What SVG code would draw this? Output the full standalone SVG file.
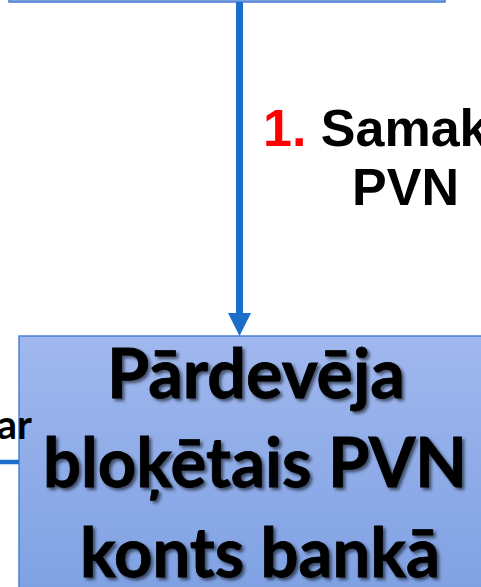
<svg xmlns="http://www.w3.org/2000/svg" width="481" height="587" viewBox="0 0 481 587">
  <defs>
    <linearGradient id="boxGrad" x1="0" y1="0" x2="0" y2="1">
      <stop offset="0" stop-color="#a0b8ee"/>
      <stop offset="1" stop-color="#7c9fe2"/>
    </linearGradient>
    <filter id="shadow" x="-10%" y="-10%" width="130%" height="130%">
      <feDropShadow dx="2.5" dy="2.5" stdDeviation="1.5" flood-color="#000" flood-opacity="0.55"/>
    </filter>
  </defs>
  <style>
    .box { fill: url(#boxGrad); stroke: #4a80d8; stroke-width: 1.5; }
    .conn { stroke: #1a6fcb; fill: none; }
    .lbl { font-family: "Liberation Sans", Arial, sans-serif; font-weight: bold; font-size: 52px; fill: #000; }
    .big { font-family: Lato, "Open Sans", sans-serif; font-weight: bold; font-size: 69px; fill: #000; stroke: #000; stroke-width: 0.8; filter: url(#shadow); }
    .small { font-family: Lato, "Open Sans", sans-serif; font-weight: bold; font-size: 40px; fill: #000; }
  </style>

  <g id="top-box">
    <rect class="box" x="9" y="-100" width="436" height="102"/>
  </g>

  <g id="seller-account">
    <rect class="box" x="19" y="336" width="480" height="280"/>
    <text class="big" x="256" y="398" text-anchor="middle" textLength="298" lengthAdjust="spacingAndGlyphs">Pārdevēja</text>
    <text class="big" x="255" y="487" text-anchor="middle" textLength="424" lengthAdjust="spacingAndGlyphs">bloķētais PVN</text>
    <text class="big" x="260" y="577" text-anchor="middle" textLength="360" lengthAdjust="spacingAndGlyphs">konts bankā</text>
  </g>

  <g id="connectors">
    <line class="conn" x1="239.5" y1="2" x2="239.5" y2="316" stroke-width="7"/>
    <polygon points="228,313 251,313 239.5,336" fill="#1a6fcb"/>
    <line class="conn" x1="0" y1="462" x2="19" y2="462" stroke-width="4.5"/>
    <text class="lbl" x="263" y="146"><tspan fill="#ff0000">1.</tspan> Samak</text>
    <text class="lbl" x="405.5" y="205" text-anchor="middle">PVN</text>
    <text class="small" x="32" y="439" text-anchor="end">ar</text>
  </g>
</svg>
